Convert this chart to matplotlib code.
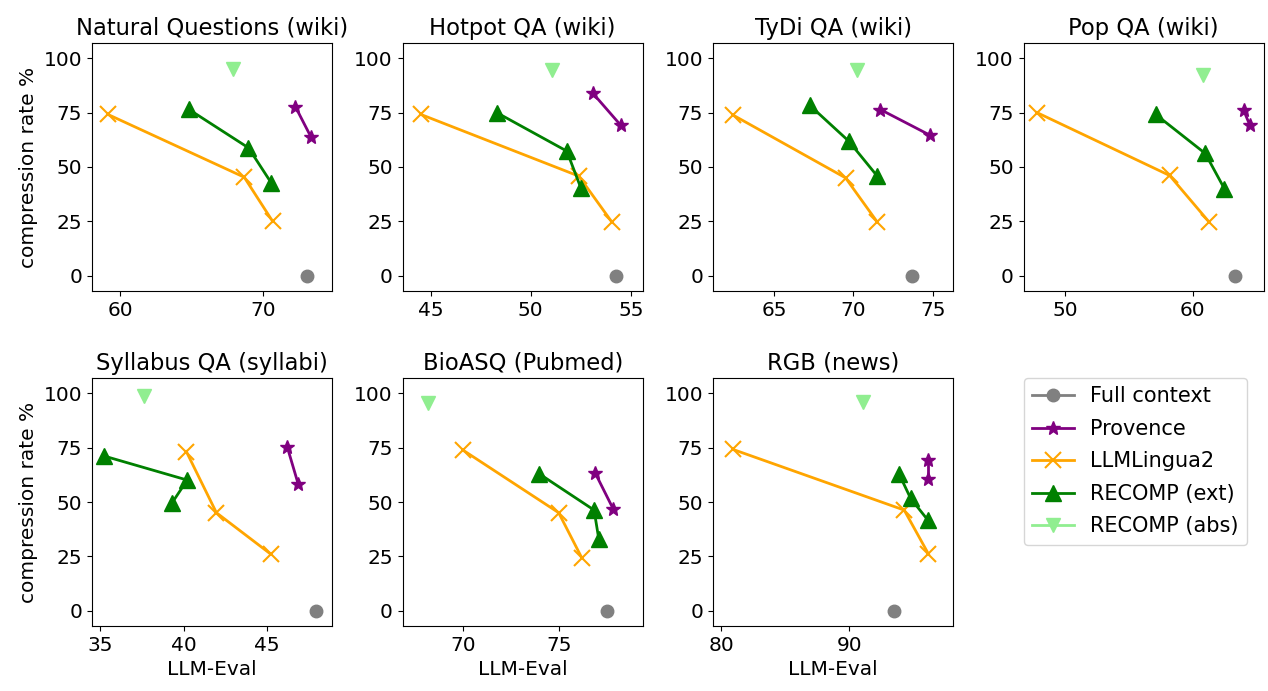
import matplotlib
matplotlib.use("Agg")
import matplotlib.pyplot as plt
from matplotlib.ticker import MultipleLocator

titles = ["Natural Questions (wiki)", "Hotpot QA (wiki)", "TyDi QA (wiki)", "Pop QA (wiki)",
          "Syllabus QA (syllabi)", "BioASQ (Pubmed)", "RGB (news)"]

# LLM-Eval (x) and compression rate % (y) per dataset
full_x = [73.1, 54.25, 73.7, 63.3, 47.9, 77.5, 93.5]
full_y = [0, 0, 0, 0, 0, 0, 0]

provence_x = [[72.3, 73.4], [53.1, 54.5], [71.7, 74.85], [64.0, 64.5], [46.2, 46.85], [76.9, 77.85], [96.2, 96.2]]
provence_y = [[77.7, 63.7], [83.9, 69.1], [76.4, 64.5], [76.2, 69.1], [75.2, 58.3], [63.5, 46.8], [69.3, 60.4]]

lingua_x = [[59.1, 68.7, 70.7], [44.5, 52.4, 54.05], [62.4, 69.5, 71.5], [47.8, 58.2, 61.3],
            [40.15, 41.95, 45.2], [70.0, 75.0, 76.2], [80.9, 94.3, 96.2]]
lingua_y = [[74.2, 45.3, 25.0], [74.2, 45.8, 24.7], [73.9, 45.0, 24.7], [75.0, 46.1, 24.7],
            [73.2, 45.1, 26.1], [73.9, 45.1, 24.5], [74.2, 46.3, 26.1]]

ext_x = [[64.8, 69.0, 70.6], [48.3, 51.8, 52.5], [67.25, 69.7, 71.5], [57.1, 61.0, 62.5],
         [35.2, 40.2, 39.3], [74.0, 76.85, 77.1], [93.9, 94.8, 96.15]]
ext_y = [[76.5, 58.8, 42.7], [75.0, 57.3, 40.4], [78.3, 61.9, 45.8], [74.2, 56.2, 40.0],
         [71.2, 60.1, 49.7], [62.9, 46.3, 32.8], [62.9, 51.7, 41.7]]

abs_x = [67.9, 51.05, 70.2, 60.8, 37.6, 68.2, 91.1]
abs_y = [95.2, 94.6, 94.6, 92.2, 98.8, 95.7, 96.2]

xlims = [(58.0, 74.9), (43.6, 55.6), (61.15, 76.3), (46.75, 65.6), (34.5, 48.9), (66.85, 79.4), (79.35, 98.15)]
xsteps = [10, 5, 5, 10, 5, 5, 10]

fs = 14.5

fig, axes = plt.subplots(2, 4, figsize=(12.68, 6.91), dpi=100)
fig.subplots_adjust(left=0.0726, right=0.9968, top=0.9378, bottom=0.094, wspace=0.292, hspace=0.351)

for i in range(7):
    ax = axes.flat[i]
    ax.plot(full_x[i], full_y[i], color="grey", marker="o", markersize=9, linewidth=2, label="Full context")
    ax.plot(provence_x[i], provence_y[i], color="purple", marker="*", markersize=10, linewidth=2, label="Provence")
    ax.plot(lingua_x[i], lingua_y[i], color="orange", marker="x", markersize=11, markeredgewidth=1.5, linewidth=2, label="LLMLingua2")
    ax.plot(ext_x[i], ext_y[i], color="green", marker="^", markersize=11, linewidth=2, label="RECOMP (ext)")
    ax.plot(abs_x[i], abs_y[i], color="lightgreen", marker="v", markersize=10, linewidth=2, label="RECOMP (abs)")
    ax.set_title(titles[i], fontsize=16.3)
    ax.set_ylim(-7, 107)
    ax.set_xlim(*xlims[i])
    ax.set_yticks([0, 25, 50, 75, 100])
    ax.xaxis.set_major_locator(MultipleLocator(xsteps[i]))
    ax.tick_params(labelsize=fs)
    if i % 4 == 0:
        ax.set_ylabel("compression rate %", fontsize=fs)
    if i >= 4:
        ax.set_xlabel("LLM-Eval", fontsize=fs)

handles, labels = axes.flat[0].get_legend_handles_labels()
axes.flat[7].axis("off")
axes.flat[7].legend(handles, labels, loc="upper left", bbox_to_anchor=(0, 1), borderaxespad=0,
                    fontsize=15, labelspacing=0.6)

fig.savefig("out.png", dpi=100)
